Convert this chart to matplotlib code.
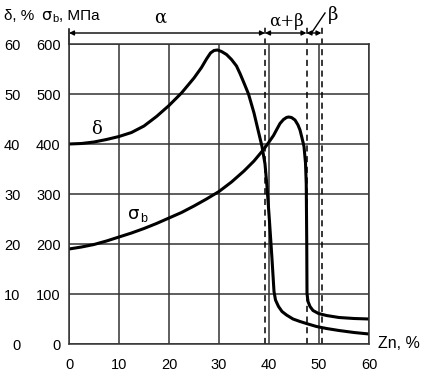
import matplotlib.pyplot as plt

# δ curve, plotted on the σb scale (δ * 10)
delta_zn = [0, 2.5, 5, 7.5, 10, 12.5, 15, 17.5, 20, 22.5, 25, 26.5, 27.5, 28.3, 29, 29.7,
            30.5, 31.5, 32.5, 33.5, 34.2, 35, 35.9, 37, 38, 38.6, 39.2, 39.6, 40.1, 40.6,
            41.0, 41.3, 41.9, 42.6, 43.5, 44.8, 46.2, 47.8, 49.5, 51.5, 54, 57, 60]
delta_val = [400, 401, 404, 409, 415, 423, 436, 455, 477, 502, 532, 553, 570, 582, 587, 588,
             585, 579, 569, 556, 541, 522, 500, 462, 420, 395, 360, 315, 245, 170,
             105, 88, 75, 65, 58, 50, 45, 40, 35, 31, 27, 23, 20]

# σb curve, MPa
sigma_zn = [0, 2.5, 5, 7.5, 10, 12.5, 15, 17.5, 20, 22.5, 25, 27.5, 30, 32.5, 35, 37, 39,
            40, 40.9, 41.6, 42.2, 42.9, 43.5, 43.9, 44.5, 45.2, 45.8, 46.2, 46.6, 47,
            47.3, 47.45, 47.55, 47.6, 47.8, 48.2, 48.8, 49.9, 51.5, 54, 57, 60]
sigma_val = [190, 194, 199, 206, 214, 222, 231, 241, 252, 263, 276, 290, 305, 324, 346, 366, 390,
             404, 417, 430, 441, 449, 453, 454, 453, 448, 438, 428, 412, 395,
             362, 320, 200, 101, 85, 75, 67, 61, 57, 53, 51, 50]

x_ticks = [0, 10, 20, 30, 40, 50, 60]
sigma_ticks = [0, 100, 200, 300, 400, 500, 600]
delta_ticks = [0, 10, 20, 30, 40, 50, 60]
phase_bounds = [39.2, 47.5, 50.5]

plt.rcParams['font.family'] = ['Liberation Sans', 'DejaVu Sans']

W, H = 426, 376
fig = plt.figure(figsize=(W / 100, H / 100), dpi=100)
ax = fig.add_axes([69 / W, 32 / H, 300 / W, 300 / H])

ax.plot(delta_zn, delta_val, color='black', lw=2.2, solid_joinstyle='round')
ax.plot(sigma_zn, sigma_val, color='black', lw=2.2, solid_joinstyle='round')

ax.set_xlim(0, 60)
ax.set_ylim(0, 600)
ax.set_xticks(x_ticks)
ax.set_yticks(sigma_ticks)
ax.grid(True, color='#333333', lw=1.1)
for s in ax.spines.values():
    s.set_linewidth(1.1)
    s.set_color('#333333')
ax.tick_params(length=0, labelsize=10.5)
ax.tick_params(axis='x', pad=10)
ax.tick_params(axis='y', pad=6)

# second column of y labels for δ
sec = ax.secondary_yaxis('left', functions=(lambda s: s / 10, lambda d: d * 10))
sec.set_yticks(delta_ticks)
sec.spines['left'].set_visible(False)
sec.tick_params(length=0, labelsize=10.5, pad=35)

# phase boundaries
for b in phase_bounds:
    ax.plot([b, b], [0, 638], color='black', lw=1.1, ls=(0, (4, 3)), clip_on=False)
ax.plot([0, 0], [600, 630], color='black', lw=1.1, clip_on=False)

arrow_y = 622
segs = [(0, phase_bounds[0]), (phase_bounds[0], phase_bounds[1]), (phase_bounds[1], phase_bounds[2])]
for a, b in segs:
    ax.annotate('', xy=(a, arrow_y), xytext=(b, arrow_y),
                arrowprops=dict(arrowstyle='<|-|>', color='black', lw=1.0,
                                mutation_scale=7, shrinkA=0, shrinkB=0),
                annotation_clip=False)

ax.text(18.2, 652, 'α', fontsize=13, family='DejaVu Serif', ha='center', va='center')
ax.text(43.5, 646, 'α+β', fontsize=12, family='DejaVu Serif', ha='center', va='center')
ax.plot([48.5, 51.2], [622, 662], color='black', lw=1.0, clip_on=False)
ax.text(52.8, 658, 'β', fontsize=13, family='DejaVu Serif', ha='center', va='center')

# curve labels
ax.text(5.5, 431, 'δ', fontsize=13, family='DejaVu Serif', ha='center', va='center')
ax.text(12.9, 260, 'σ', fontsize=13, family='DejaVu Sans', ha='center', va='center')
ax.text(14.2, 250, 'b', fontsize=9, ha='left', va='center')

# axis titles
fig.text(4 / W, 1 - 16 / H, 'δ, %', fontsize=11, ha='left', va='center')
fig.text(41 / W, 1 - 16 / H, 'σ', fontsize=11.5, family='DejaVu Sans', ha='left', va='center')
fig.text(52 / W, 1 - 19 / H, 'b', fontsize=8, ha='left', va='center')
fig.text(59 / W, 1 - 16 / H, ', МПа', fontsize=11, ha='left', va='center')
fig.text(378 / W, 1 - 343 / H, 'Zn, %', fontsize=11.5, ha='left', va='center')

fig.savefig('out.png', dpi=100)
